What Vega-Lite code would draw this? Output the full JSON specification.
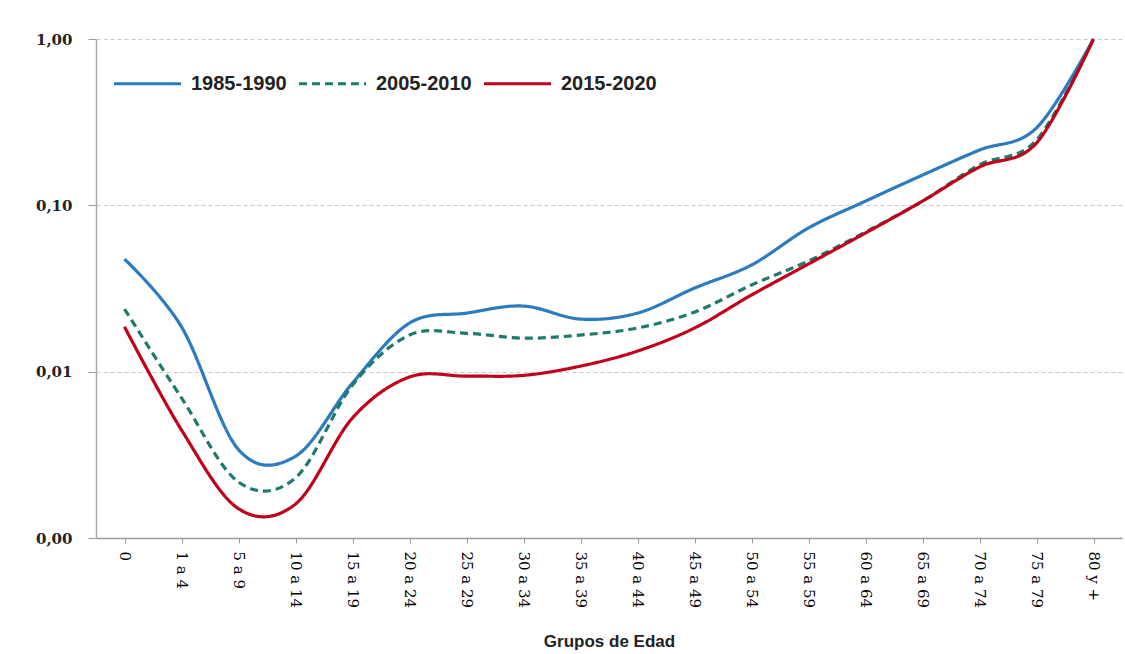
{
  "$schema": "https://vega.github.io/schema/vega-lite/v6.json",
  "width": 1026,
  "height": 499,
  "autosize": {"type": "none"},
  "padding": {"left": 96, "top": 39, "right": 3, "bottom": 116},
  "background": "white",
  "config": {"view": {"stroke": null}},
  "data": {
    "values": [
      {"grupo": "0", "periodo": "1985-1990", "tasa": 0.0475},
      {"grupo": "1 a 4", "periodo": "1985-1990", "tasa": 0.0186},
      {"grupo": "5 a 9", "periodo": "1985-1990", "tasa": 0.0034},
      {"grupo": "10 a 14", "periodo": "1985-1990", "tasa": 0.0031},
      {"grupo": "15 a 19", "periodo": "1985-1990", "tasa": 0.00855},
      {"grupo": "20 a 24", "periodo": "1985-1990", "tasa": 0.0196},
      {"grupo": "25 a 29", "periodo": "1985-1990", "tasa": 0.0225},
      {"grupo": "30 a 34", "periodo": "1985-1990", "tasa": 0.0248},
      {"grupo": "35 a 39", "periodo": "1985-1990", "tasa": 0.0207},
      {"grupo": "40 a 44", "periodo": "1985-1990", "tasa": 0.0225},
      {"grupo": "45 a 49", "periodo": "1985-1990", "tasa": 0.0318},
      {"grupo": "50 a 54", "periodo": "1985-1990", "tasa": 0.0438},
      {"grupo": "55 a 59", "periodo": "1985-1990", "tasa": 0.0731},
      {"grupo": "60 a 64", "periodo": "1985-1990", "tasa": 0.106},
      {"grupo": "65 a 69", "periodo": "1985-1990", "tasa": 0.152},
      {"grupo": "70 a 74", "periodo": "1985-1990", "tasa": 0.215},
      {"grupo": "75 a 79", "periodo": "1985-1990", "tasa": 0.292},
      {"grupo": "80 y +", "periodo": "1985-1990", "tasa": 1.0},
      {"grupo": "0", "periodo": "2005-2010", "tasa": 0.0238},
      {"grupo": "1 a 4", "periodo": "2005-2010", "tasa": 0.00695},
      {"grupo": "5 a 9", "periodo": "2005-2010", "tasa": 0.00217},
      {"grupo": "10 a 14", "periodo": "2005-2010", "tasa": 0.0023},
      {"grupo": "15 a 19", "periodo": "2005-2010", "tasa": 0.00831},
      {"grupo": "20 a 24", "periodo": "2005-2010", "tasa": 0.0166},
      {"grupo": "25 a 29", "periodo": "2005-2010", "tasa": 0.0170},
      {"grupo": "30 a 34", "periodo": "2005-2010", "tasa": 0.0159},
      {"grupo": "35 a 39", "periodo": "2005-2010", "tasa": 0.0166},
      {"grupo": "40 a 44", "periodo": "2005-2010", "tasa": 0.0183},
      {"grupo": "45 a 49", "periodo": "2005-2010", "tasa": 0.0228},
      {"grupo": "50 a 54", "periodo": "2005-2010", "tasa": 0.0332},
      {"grupo": "55 a 59", "periodo": "2005-2010", "tasa": 0.0463},
      {"grupo": "60 a 64", "periodo": "2005-2010", "tasa": 0.0691},
      {"grupo": "65 a 69", "periodo": "2005-2010", "tasa": 0.106},
      {"grupo": "70 a 74", "periodo": "2005-2010", "tasa": 0.175},
      {"grupo": "75 a 79", "periodo": "2005-2010", "tasa": 0.247},
      {"grupo": "80 y +", "periodo": "2005-2010", "tasa": 1.0},
      {"grupo": "0", "periodo": "2015-2020", "tasa": 0.0186},
      {"grupo": "1 a 4", "periodo": "2015-2020", "tasa": 0.00446},
      {"grupo": "5 a 9", "periodo": "2015-2020", "tasa": 0.0015},
      {"grupo": "10 a 14", "periodo": "2015-2020", "tasa": 0.0016},
      {"grupo": "15 a 19", "periodo": "2015-2020", "tasa": 0.00527},
      {"grupo": "20 a 24", "periodo": "2015-2020", "tasa": 0.00929},
      {"grupo": "25 a 29", "periodo": "2015-2020", "tasa": 0.0094},
      {"grupo": "30 a 34", "periodo": "2015-2020", "tasa": 0.0095},
      {"grupo": "35 a 39", "periodo": "2015-2020", "tasa": 0.0108},
      {"grupo": "40 a 44", "periodo": "2015-2020", "tasa": 0.0133},
      {"grupo": "45 a 49", "periodo": "2015-2020", "tasa": 0.0183},
      {"grupo": "50 a 54", "periodo": "2015-2020", "tasa": 0.0289},
      {"grupo": "55 a 59", "periodo": "2015-2020", "tasa": 0.0444},
      {"grupo": "60 a 64", "periodo": "2015-2020", "tasa": 0.0682},
      {"grupo": "65 a 69", "periodo": "2015-2020", "tasa": 0.106},
      {"grupo": "70 a 74", "periodo": "2015-2020", "tasa": 0.170},
      {"grupo": "75 a 79", "periodo": "2015-2020", "tasa": 0.237},
      {"grupo": "80 y +", "periodo": "2015-2020", "tasa": 1.0}
    ]
  },
  "mark": {"type": "line", "interpolate": "cardinal", "strokeWidth": 3.2},
  "encoding": {
    "x": {
      "field": "grupo",
      "type": "ordinal",
      "sort": null,
      "scale": {"type": "point", "padding": 0.5},
      "axis": {
        "title": "Grupos de Edad",
        "titleFont": "Liberation Sans",
        "titleFontSize": 17,
        "titleFontWeight": "bold",
        "titleColor": "#222",
        "titlePadding": 26,
        "labelAngle": 90,
        "labelFont": "DejaVu Serif",
        "labelFontSize": 15,
        "labelColor": "#000",
        "labelPadding": 8,
        "tickSize": 5,
        "tickColor": "#999",
        "domainColor": "#999",
        "domainWidth": 1.5,
        "grid": false
      }
    },
    "y": {
      "field": "tasa",
      "type": "quantitative",
      "scale": {"type": "log", "domain": [0.001, 1], "nice": false},
      "axis": {
        "title": null,
        "values": [0.001, 0.01, 0.1, 1],
        "labelExpr": "replace(format(datum.value, '.2f'), '.', ',')",
        "labelFont": "DejaVu Serif",
        "labelFontSize": 15,
        "labelFontWeight": "bold",
        "labelColor": "#222",
        "labelPadding": 16,
        "tickSize": 8,
        "tickColor": "#999",
        "domainColor": "#aaa",
        "domainWidth": 1.5,
        "grid": true,
        "gridColor": "#c8c8c8",
        "gridDash": [4, 3]
      }
    },
    "color": {
      "field": "periodo",
      "type": "nominal",
      "scale": {"domain": ["1985-1990", "2005-2010", "2015-2020"], "range": ["#2b7bbf", "#1e7a6c", "#c0001a"]},
      "legend": {
        "title": null,
        "orient": "none",
        "legendX": 16,
        "legendY": 9,
        "direction": "horizontal",
        "symbolType": "stroke",
        "symbolSize": 4500,
        "symbolStrokeWidth": 3,
        "labelFont": "Liberation Sans",
        "labelFontSize": 20,
        "labelFontWeight": "bold",
        "labelColor": "#222",
        "labelOffset": 8,
        "columnPadding": 5
      }
    },
    "strokeDash": {
      "field": "periodo",
      "type": "nominal",
      "scale": {"domain": ["1985-1990", "2005-2010", "2015-2020"], "range": [[1, 0], [8, 5], [1, 0]]},
      "legend": null
    }
  }
}
